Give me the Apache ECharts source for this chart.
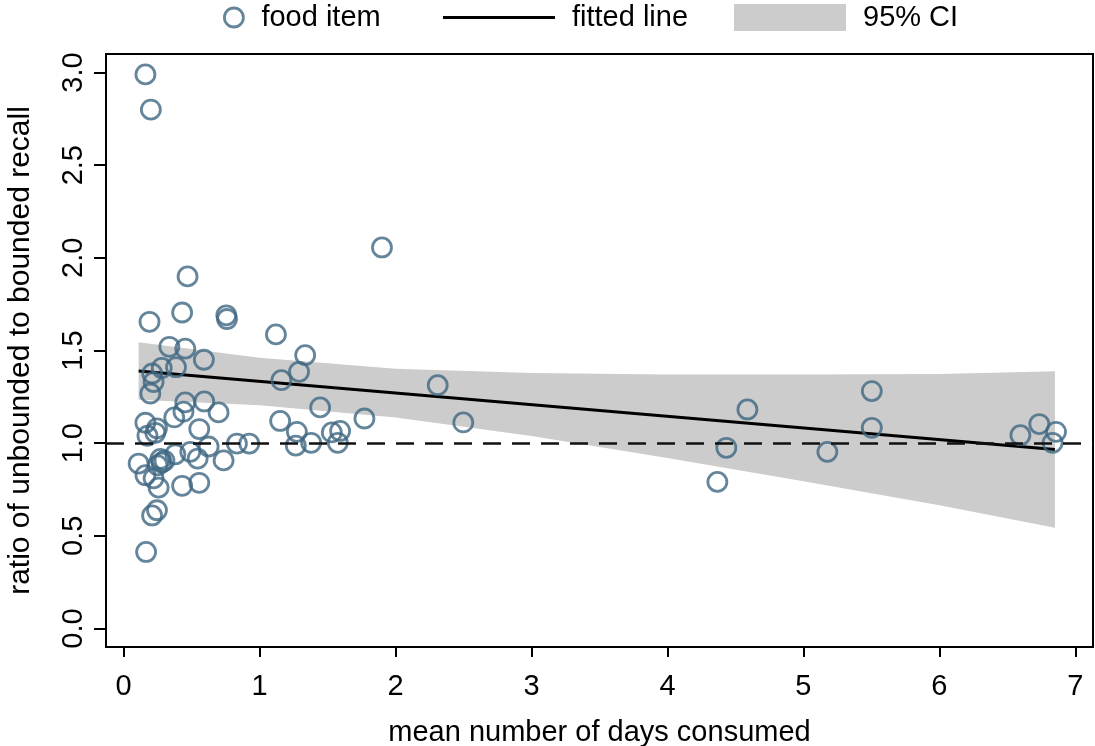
<!DOCTYPE html>
<html><head><meta charset="utf-8">
<script src="https://cdn.jsdelivr.net/npm/echarts@6/dist/echarts.min.js"></script>
<style>html,body{margin:0;padding:0;background:#fff}#c{width:1095px;height:746px}</style>
</head><body><div id="c"></div>
<script>
// food items: mean number of days consumed (x) and ratio unbounded/bounded (y)
const foodX = [0.16,0.20,1.90,0.47,0.43,0.755,0.76,0.19,1.12,0.336,0.453,1.335,0.59,0.28,0.385,0.21,1.29,0.22,1.16,2.31,
  0.196,0.453,0.593,1.445,0.44,0.698,0.372,1.771,1.151,2.498,0.16,0.245,0.556,1.274,1.531,1.592,0.233,0.175,1.266,1.379,
  1.575,0.625,0.833,0.924,0.38,0.49,0.544,0.735,0.11,0.25,0.28,0.30,0.27,0.16,0.22,0.257,0.43,0.556,0.245,0.209,0.165,
  4.588,4.433,4.367,5.176,5.503,5.503,6.596,6.735,6.858,6.833];
const foodY = [2.99,2.80,2.056,1.90,1.705,1.69,1.67,1.655,1.587,1.52,1.51,1.475,1.45,1.406,1.41,1.376,1.385,1.33,1.34,1.313,
  1.268,1.22,1.225,1.193,1.17,1.166,1.139,1.133,1.12,1.112,1.11,1.08,1.076,1.061,1.058,1.066,1.056,1.04,0.987,1.002,
  1.002,0.982,0.998,0.998,0.94,0.953,0.917,0.907,0.89,0.88,0.895,0.905,0.915,0.827,0.81,0.76,0.77,0.786,0.638,0.61,0.413,
  1.182,0.975,0.791,0.953,1.281,1.083,1.043,1.103,1.061,1.002];
const fitX = [0.11, 6.85];
const fitY = [1.389, 0.966];
const ciX = [0.11, 1, 2, 3, 4, 5, 6, 6.85];
const ciUpper = [1.544, 1.461, 1.402, 1.378, 1.370, 1.370, 1.373, 1.388];
const ciLower = [1.234, 1.205, 1.138, 1.038, 0.920, 0.794, 0.665, 0.544];
const xTicks = [0, 1, 2, 3, 4, 5, 6, 7];
const yTicks = [0, 0.5, 1, 1.5, 2, 2.5, 3];
const refLineY = 1;

const FONT = '"Liberation Sans", Arial, sans-serif';
const MARK = '#3f6782';
const chart = echarts.init(document.getElementById('c'), null, {renderer: 'canvas'});

const option = {
  backgroundColor: '#fff',
  animation: false,
  textStyle: {fontFamily: FONT, color: '#000'},
  grid: {left: 106, right: 2, top: 54, bottom: 99, show: true, borderColor: '#000', borderWidth: 2,
    backgroundColor: 'transparent', containLabel: false, outerBoundsMode: 'none'},
  legend: [
    {data: [{name: 'food item', icon: 'circle', itemStyle: {color: 'rgba(0,0,0,0)', borderColor: MARK, borderWidth: 2.8}}],
     left: 223, top: 3, padding: 0, itemWidth: 45, itemHeight: 19,
     textStyle: {fontSize: 29, color: '#000', fontFamily: FONT}},
    {data: [{name: 'fitted line', icon: 'rect', itemStyle: {color: '#000'}}], left: 443, top: 3, padding: 0, itemWidth: 112, itemHeight: 3,
     textStyle: {fontSize: 29, color: '#000', fontFamily: FONT, padding: [0, 0, 0, 12]}},
    {data: [{name: '95% CI', icon: 'rect'}], left: 734, top: 3, padding: 0, itemWidth: 112, itemHeight: 27,
     textStyle: {fontSize: 29, color: '#000', fontFamily: FONT, padding: [0, 0, 0, 12]}}
  ],
  xAxis: {
    type: 'value', min: -0.13, max: 7.13,
    name: 'mean number of days consumed', nameLocation: 'middle', nameGap: 71,
    nameTextStyle: {fontSize: 29, color: '#000', fontFamily: FONT},
    axisLine: {show: true, onZero: false, lineStyle: {color: '#000', width: 2}},
    axisTick: {show: true, length: 10, lineStyle: {color: '#000', width: 2}, customValues: xTicks},
    axisLabel: {fontSize: 29, color: '#000', margin: 25, fontFamily: FONT, customValues: xTicks},
    splitLine: {show: false}
  },
  yAxis: {
    type: 'value', min: -0.1, max: 3.1,
    name: 'ratio of unbounded to bounded recall', nameLocation: 'middle', nameGap: 70, nameRotate: 90,
    nameTextStyle: {fontSize: 30, color: '#000', fontFamily: FONT},
    axisLine: {show: true, onZero: false, lineStyle: {color: '#000', width: 2}},
    axisTick: {show: true, length: 12, lineStyle: {color: '#000', width: 2}, customValues: yTicks},
    axisLabel: {fontSize: 29, color: '#000', margin: 18, rotate: 90, fontFamily: FONT, customValues: yTicks,
      formatter: v => v.toFixed(1)},
    splitLine: {show: false}
  },
  series: [
    {
      name: '95% CI', type: 'custom', itemStyle: {color: '#cccccc'},
      data: [[ciX[0], ciUpper[0]]],
      clip: true, z: 1,
      renderItem: function (params, api) {
        const pts = [];
        for (let i = 0; i < ciX.length; i++) pts.push(api.coord([ciX[i], ciUpper[i]]));
        for (let i = ciX.length - 1; i >= 0; i--) pts.push(api.coord([ciX[i], ciLower[i]]));
        return {type: 'polygon', shape: {points: pts}, style: {fill: '#cccccc'}};
      }
    },
    {
      name: 'fitted line', type: 'line', z: 3, symbol: 'none',
      data: fitX.map((x, i) => [x, fitY[i]]),
      lineStyle: {color: '#000', width: 3}, itemStyle: {color: '#000'},
      markLine: {
        silent: true, symbol: ['none', 'none'], label: {show: false},
        lineStyle: {color: '#111', width: 2.5, type: [18, 11]},
        data: [{yAxis: refLineY}]
      }
    },
    {
      name: 'food item', type: 'scatter', z: 4, symbol: 'circle', symbolSize: 19,
      data: foodX.map((x, i) => [x, foodY[i]]),
      itemStyle: {color: 'rgba(0,0,0,0)', borderColor: MARK, borderWidth: 2.8}
    }
  ]
};
chart.setOption(option);
</script>
</body></html>
